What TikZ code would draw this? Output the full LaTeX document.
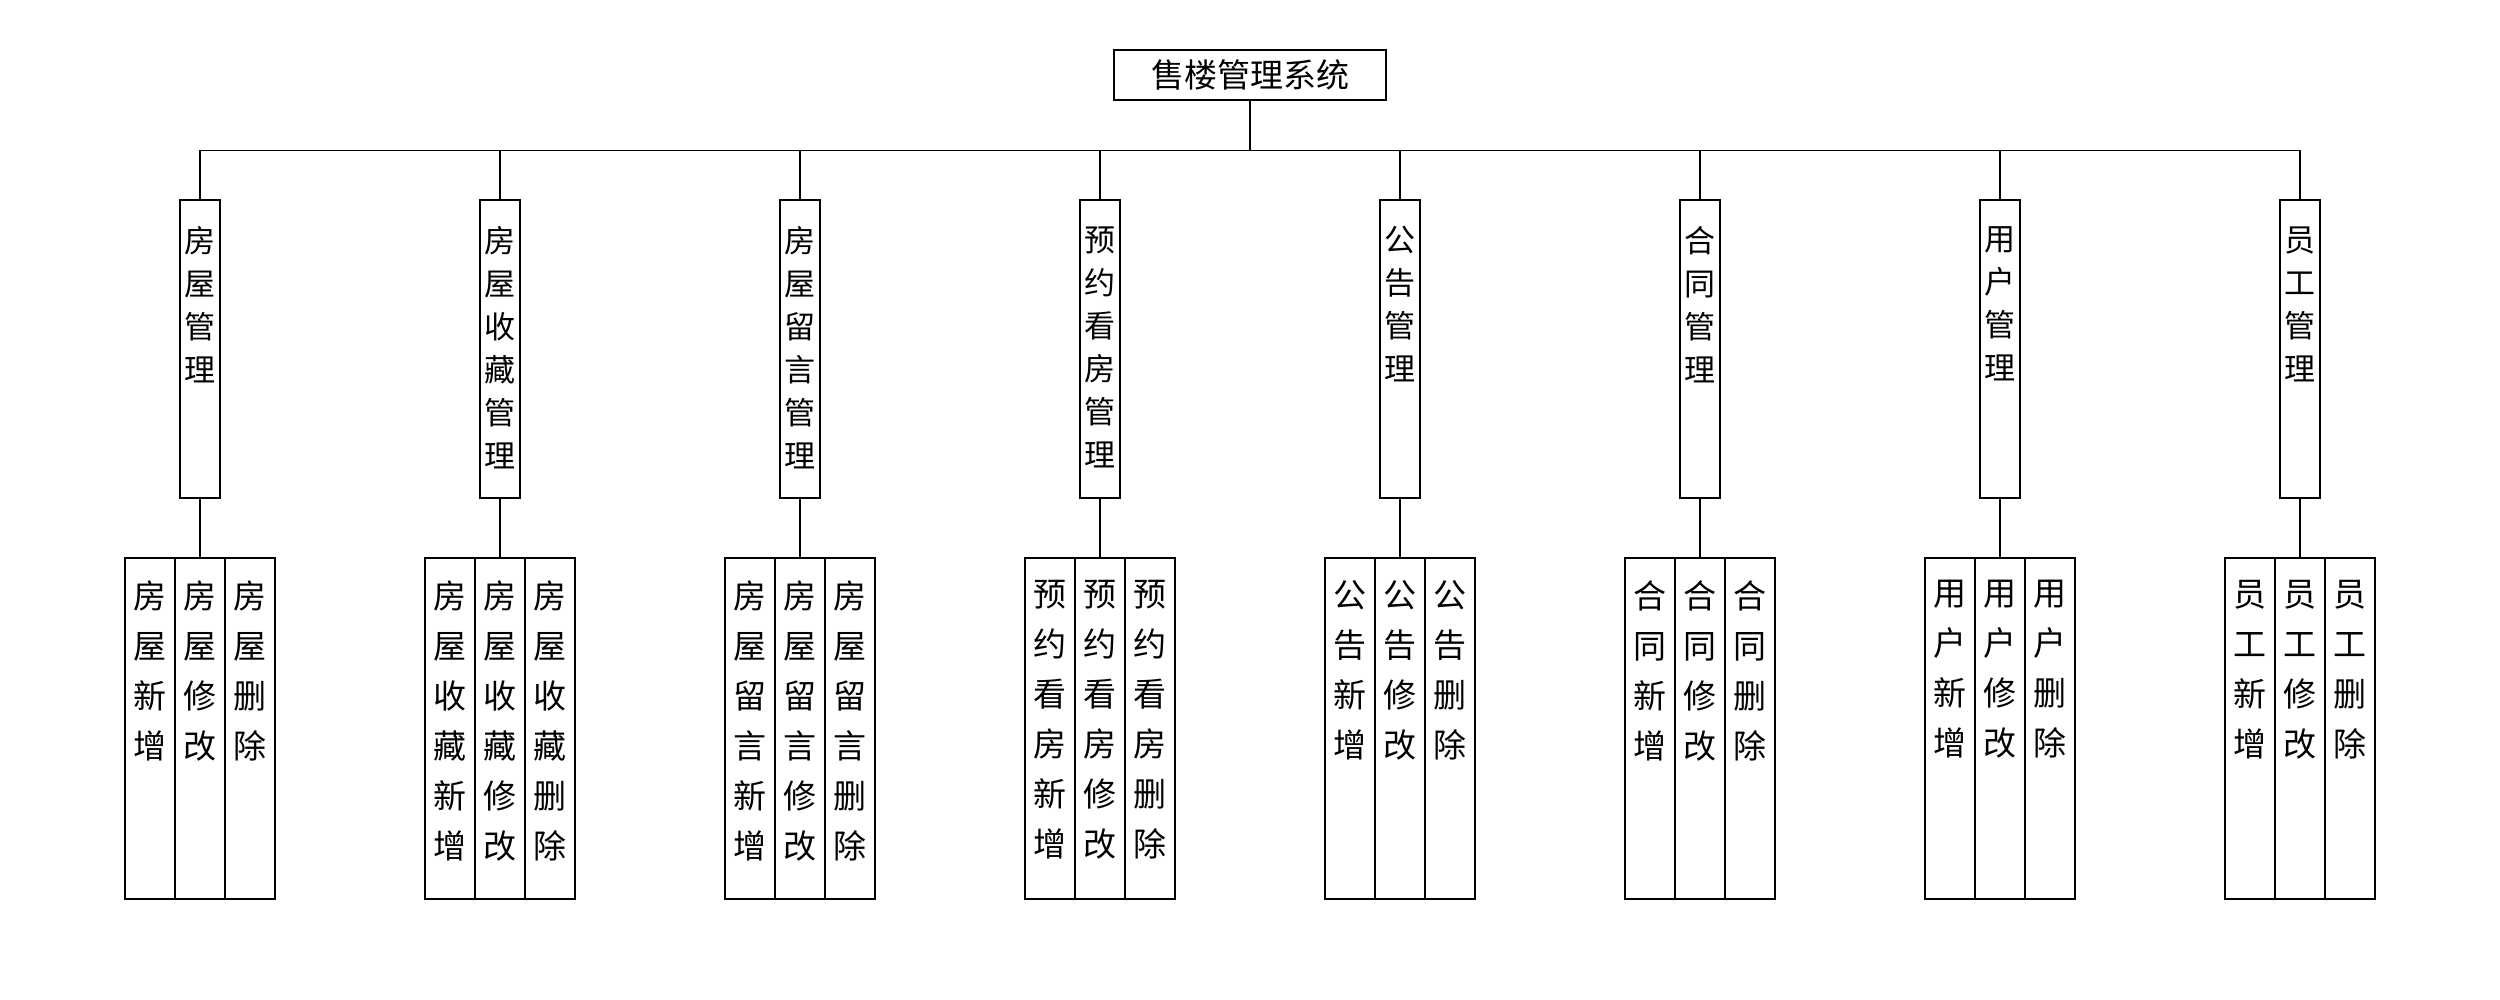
\documentclass[tikz,border=0pt]{standalone}
\usepackage{fontspec}
\newfontfamily\cjk{Noto Sans CJK SC}
\usepackage{tikz}
\usetikzlibrary{positioning}

\begin{document}
\begin{tikzpicture}[
	line/.style={draw=black,line width=1.3pt},
	topbox/.style={line,minimum width=272pt,minimum height=50pt,inner sep=0pt,font=\cjk\fontsize{33pt}{38pt}\selectfont},
	midbox/.style={line,minimum width=40pt,minimum height=298pt,inner sep=0pt},
	midtext/.style={anchor=north,yshift=-27pt,align=center,inner sep=0pt,font=\cjk\fontsize{31pt}{43pt}\selectfont},
	leafbox/.style={line,minimum width=50pt,minimum height=341pt,inner sep=0pt},
	leaftext/.style={anchor=north,yshift=-23pt,align=center,inner sep=0pt,font=\cjk\fontsize{33pt}{50pt}\selectfont}]

	\useasboundingbox (0pt,0pt) rectangle (2500pt,1000pt);

	\node[topbox] (sys) at (1250pt,925pt){售楼管理系统};

	\node[midbox,label={[midtext]north:房\\屋\\管\\理}] (m1) at (200pt,651pt){};
	\node[midbox,label={[midtext]north:房\\屋\\收\\藏\\管\\理}] (m2) at (500pt,651pt){};
	\node[midbox,label={[midtext]north:房\\屋\\留\\言\\管\\理}] (m3) at (800pt,651pt){};
	\node[midbox,label={[midtext]north:预\\约\\看\\房\\管\\理}] (m4) at (1100pt,651pt){};
	\node[midbox,label={[midtext]north:公\\告\\管\\理}] (m5) at (1400pt,651pt){};
	\node[midbox,label={[midtext]north:合\\同\\管\\理}] (m6) at (1700pt,651pt){};
	\node[midbox,label={[midtext]north:用\\户\\管\\理}] (m7) at (2000pt,651pt){};
	\node[midbox,label={[midtext]north:员\\工\\管\\理}] (m8) at (2300pt,651pt){};

	\node[leafbox,label={[leaftext]north:房\\屋\\新\\增}] (l1a) at (150pt,271.5pt){};
	\node[leafbox,label={[leaftext]north:房\\屋\\修\\改}] (l1b) at (200pt,271.5pt){};
	\node[leafbox,label={[leaftext]north:房\\屋\\删\\除}] (l1c) at (250pt,271.5pt){};

	\node[leafbox,label={[leaftext]north:房\\屋\\收\\藏\\新\\增}] (l2a) at (450pt,271.5pt){};
	\node[leafbox,label={[leaftext]north:房\\屋\\收\\藏\\修\\改}] (l2b) at (500pt,271.5pt){};
	\node[leafbox,label={[leaftext]north:房\\屋\\收\\藏\\删\\除}] (l2c) at (550pt,271.5pt){};

	\node[leafbox,label={[leaftext]north:房\\屋\\留\\言\\新\\增}] (l3a) at (750pt,271.5pt){};
	\node[leafbox,label={[leaftext]north:房\\屋\\留\\言\\修\\改}] (l3b) at (800pt,271.5pt){};
	\node[leafbox,label={[leaftext]north:房\\屋\\留\\言\\删\\除}] (l3c) at (850pt,271.5pt){};

	\node[leafbox,label={[leaftext]north:预\\约\\看\\房\\新\\增}] (l4a) at (1050pt,271.5pt){};
	\node[leafbox,label={[leaftext]north:预\\约\\看\\房\\修\\改}] (l4b) at (1100pt,271.5pt){};
	\node[leafbox,label={[leaftext]north:预\\约\\看\\房\\删\\除}] (l4c) at (1150pt,271.5pt){};

	\node[leafbox,label={[leaftext]north:公\\告\\新\\增}] (l5a) at (1350pt,271.5pt){};
	\node[leafbox,label={[leaftext]north:公\\告\\修\\改}] (l5b) at (1400pt,271.5pt){};
	\node[leafbox,label={[leaftext]north:公\\告\\删\\除}] (l5c) at (1450pt,271.5pt){};

	\node[leafbox,label={[leaftext]north:合\\同\\新\\增}] (l6a) at (1650pt,271.5pt){};
	\node[leafbox,label={[leaftext]north:合\\同\\修\\改}] (l6b) at (1700pt,271.5pt){};
	\node[leafbox,label={[leaftext]north:合\\同\\删\\除}] (l6c) at (1750pt,271.5pt){};

	\node[leafbox,label={[leaftext]north:用\\户\\新\\增}] (l7a) at (1950pt,271.5pt){};
	\node[leafbox,label={[leaftext]north:用\\户\\修\\改}] (l7b) at (2000pt,271.5pt){};
	\node[leafbox,label={[leaftext]north:用\\户\\删\\除}] (l7c) at (2050pt,271.5pt){};

	\node[leafbox,label={[leaftext]north:员\\工\\新\\增}] (l8a) at (2250pt,271.5pt){};
	\node[leafbox,label={[leaftext]north:员\\工\\修\\改}] (l8b) at (2300pt,271.5pt){};
	\node[leafbox,label={[leaftext]north:员\\工\\删\\除}] (l8c) at (2350pt,271.5pt){};

	
	\draw[line] (sys.south) -- ++(0pt,-50pt) -| (m1.north);
	\draw[line] (sys.south) -- ++(0pt,-50pt) -| (m2.north);
	\draw[line] (sys.south) -- ++(0pt,-50pt) -| (m3.north);
	\draw[line] (sys.south) -- ++(0pt,-50pt) -| (m4.north);
	\draw[line] (sys.south) -- ++(0pt,-50pt) -| (m5.north);
	\draw[line] (sys.south) -- ++(0pt,-50pt) -| (m6.north);
	\draw[line] (sys.south) -- ++(0pt,-50pt) -| (m7.north);
	\draw[line] (sys.south) -- ++(0pt,-50pt) -| (m8.north);

	\draw[line] (m1.south) -- (l1b.north);
	\draw[line] (m2.south) -- (l2b.north);
	\draw[line] (m3.south) -- (l3b.north);
	\draw[line] (m4.south) -- (l4b.north);
	\draw[line] (m5.south) -- (l5b.north);
	\draw[line] (m6.south) -- (l6b.north);
	\draw[line] (m7.south) -- (l7b.north);
	\draw[line] (m8.south) -- (l8b.north);
\end{tikzpicture}
\end{document}
